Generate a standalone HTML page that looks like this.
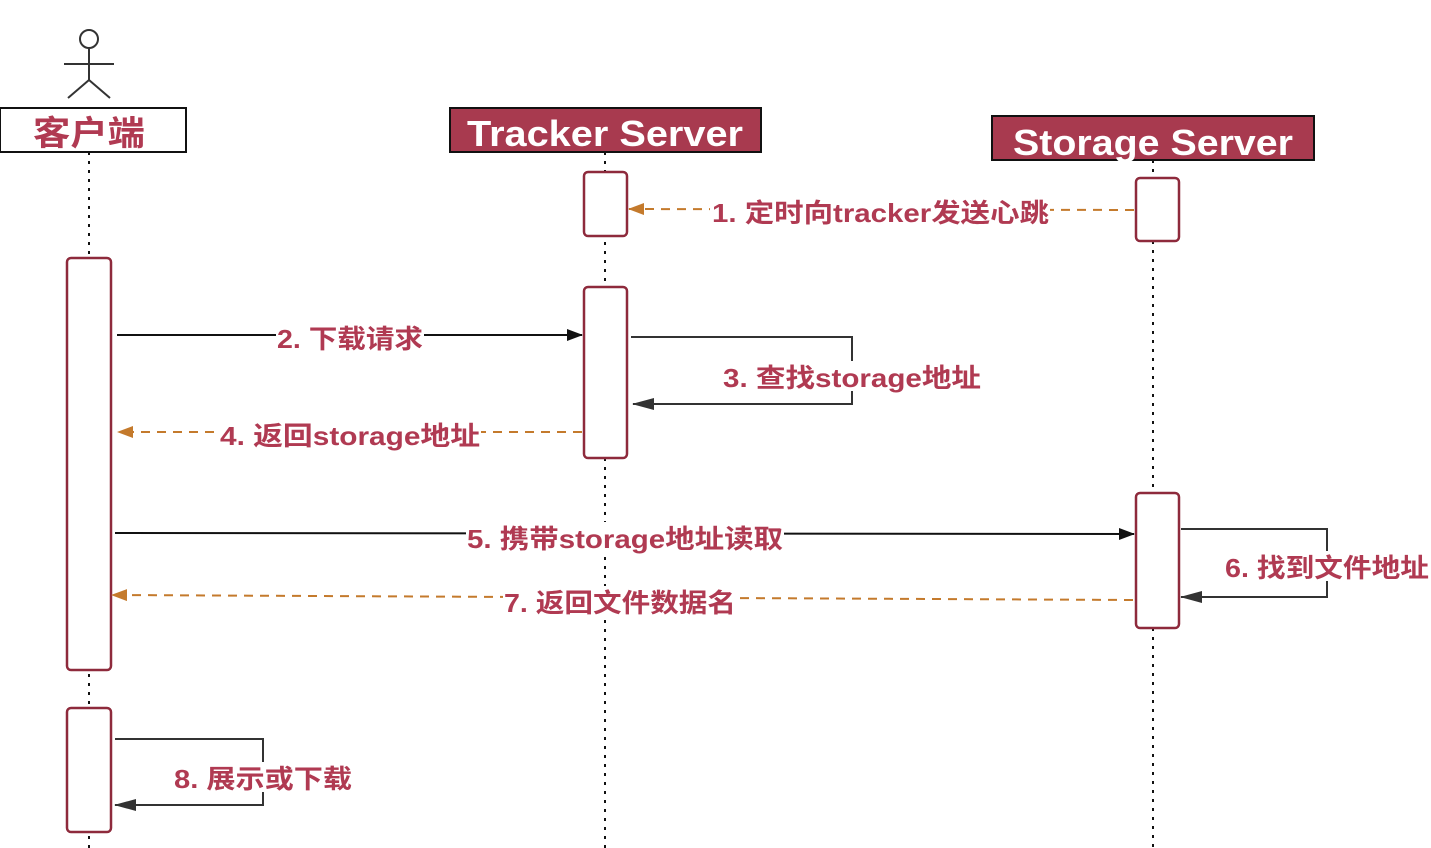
<!DOCTYPE html>
<html><head><meta charset="utf-8"><style>
html,body{margin:0;padding:0;background:#fff;width:1431px;height:848px;overflow:hidden}
svg text{font-family:"Liberation Sans","Noto Sans CJK SC",sans-serif;font-weight:bold}
</style></head><body>
<svg width="1431" height="848" viewBox="0 0 1431 848" xmlns="http://www.w3.org/2000/svg">
<defs>
<marker id="ab" markerWidth="16" markerHeight="12" refX="15" refY="6" orient="auto" markerUnits="userSpaceOnUse"><path d="M0,0 L16,6 L0,12 z" fill="#111"/></marker>
<marker id="ao" markerWidth="16" markerHeight="12" refX="15" refY="6" orient="auto" markerUnits="userSpaceOnUse"><path d="M0,0 L16,6 L0,12 z" fill="#c47a2c"/></marker>
<marker id="ag" markerWidth="22" markerHeight="12" refX="21" refY="6" orient="auto" markerUnits="userSpaceOnUse"><path d="M0,0 L22,6 L0,12 z" fill="#333"/></marker>
</defs>
<g stroke="#111" stroke-width="2" stroke-dasharray="3,6">
<line x1="89" y1="152" x2="89" y2="848"/>
<line x1="605" y1="152" x2="605" y2="848"/>
<line x1="1153" y1="160" x2="1153" y2="848"/>
</g>
<g stroke="#333" stroke-width="2" fill="none">
<circle cx="89" cy="39" r="9"/>
<line x1="89" y1="48" x2="89" y2="80"/>
<line x1="64" y1="64" x2="114" y2="64"/>
<line x1="89" y1="80" x2="68" y2="98"/>
<line x1="89" y1="80" x2="110" y2="98"/>
</g>
<rect x="0" y="108" width="186" height="44" fill="#fff" stroke="#111" stroke-width="2"/>
<text x="33" y="145" font-size="34" fill="#b03a52" textLength="112" lengthAdjust="spacingAndGlyphs">客户端</text>
<rect x="450" y="108" width="311" height="44" fill="#a83a4f" stroke="#111" stroke-width="2"/>
<text x="467" y="146" font-size="36" fill="#fff" textLength="276" lengthAdjust="spacingAndGlyphs">Tracker Server</text>
<rect x="992" y="116" width="322" height="44" fill="#a83a4f" stroke="#111" stroke-width="2"/>
<text x="1013" y="155" font-size="36" fill="#fff" textLength="280" lengthAdjust="spacingAndGlyphs">Storage Server</text>
<g fill="#fff" stroke="#8e2a3c" stroke-width="2.5">
<rect x="584" y="172" width="43" height="64" rx="4"/>
<rect x="1136" y="178" width="43" height="63" rx="4"/>
<rect x="67" y="258" width="44" height="412" rx="4"/>
<rect x="584" y="287" width="43" height="171" rx="4"/>
<rect x="1136" y="493" width="43" height="135" rx="4"/>
<rect x="67" y="708" width="44" height="124" rx="4"/>
</g>
<g stroke-width="2" fill="none">
<line x1="1134" y1="210" x2="629" y2="209" stroke="#c47a2c" stroke-dasharray="9,7" marker-end="url(#ao)"/>
<line x1="117" y1="335" x2="582" y2="335" stroke="#111" marker-end="url(#ab)"/>
<polyline points="631,337 852,337 852,404 633,404" stroke="#333" marker-end="url(#ag)"/>
<line x1="582" y1="432" x2="118" y2="432" stroke="#c47a2c" stroke-dasharray="9,7" marker-end="url(#ao)"/>
<line x1="115" y1="533" x2="1134" y2="534" stroke="#111" marker-end="url(#ab)"/>
<polyline points="1181,529 1327,529 1327,597 1181,597" stroke="#333" marker-end="url(#ag)"/>
<line x1="1133" y1="600" x2="112" y2="595" stroke="#c47a2c" stroke-dasharray="9,7" marker-end="url(#ao)"/>
<polyline points="115,739 263,739 263,805 115,805" stroke="#333" marker-end="url(#ag)"/>
</g>
<g font-size="26" fill="#b03a52" lengthAdjust="spacingAndGlyphs">
<rect x="710" y="196" width="340" height="30" fill="#fff"/>
<text x="712" y="222" textLength="337" lengthAdjust="spacingAndGlyphs">1. 定时向tracker发送心跳</text>
<rect x="276" y="321" width="148" height="30" fill="#fff"/>
<text x="277" y="348" textLength="146" lengthAdjust="spacingAndGlyphs">2. 下载请求</text>
<rect x="722" y="361" width="260" height="30" fill="#fff"/>
<text x="723" y="387" textLength="258" lengthAdjust="spacingAndGlyphs">3. 查找storage地址</text>
<rect x="219" y="418" width="262" height="30" fill="#fff"/>
<text x="220" y="445" textLength="260" lengthAdjust="spacingAndGlyphs">4. 返回storage地址</text>
<rect x="466" y="522" width="318" height="30" fill="#fff"/>
<text x="467" y="548" textLength="316" lengthAdjust="spacingAndGlyphs">5. 携带storage地址读取</text>
<rect x="1224" y="551" width="207" height="30" fill="#fff"/>
<text x="1225" y="577" textLength="204" lengthAdjust="spacingAndGlyphs">6. 找到文件地址</text>
<rect x="503" y="586" width="234" height="30" fill="#fff"/>
<text x="504" y="612" textLength="232" lengthAdjust="spacingAndGlyphs">7. 返回文件数据名</text>
<rect x="173" y="762" width="180" height="30" fill="#fff"/>
<text x="174" y="788" textLength="178" lengthAdjust="spacingAndGlyphs">8. 展示或下载</text>
</g>
</svg>
</body></html>
